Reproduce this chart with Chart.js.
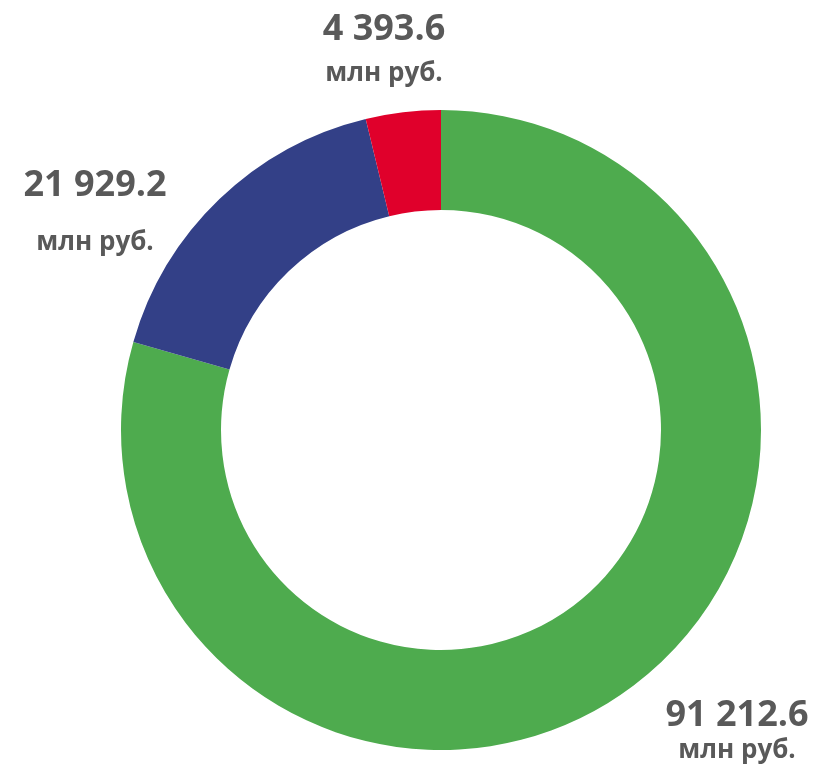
<!DOCTYPE html>
<html>
<head>
<meta charset="utf-8">
<script src="https://cdn.jsdelivr.net/npm/chart.js@4.4.1/dist/chart.umd.min.js"></script>
<style>
  html,body{margin:0;padding:0;background:#fff;}
  #wrap{width:817px;height:776px;}
</style>
</head>
<body>
<div id="wrap"><canvas id="c" width="817" height="776"></canvas></div>
<script>
const categories = ['Сегмент 1', 'Сегмент 2', 'Сегмент 3'];
const values = [91212.6, 19270, 4340];
const colors = ['#4EAB4E', '#334087', '#E0002B'];
// printed labels
const valueLabels = ['91 212.6', '21 929.2', '4 393.6'];
const unitLabel = 'млн руб.';

const TEXT = '#595959';
// label anchor points (canvas px): value text center / unit text center
const labelPos = [
  {x: 737, y: 716, uy: 751},
  {x: 95, y: 186, uy: 243},
  {x: 384, y: 30, uy: 74}
];

const labelsPlugin = {
  id: 'valueLabels',
  afterDraw(chart){
    const ctx = chart.ctx;
    ctx.save();
    ctx.fillStyle = TEXT;
    ctx.textAlign = 'center';
    ctx.textBaseline = 'middle';
    labelPos.forEach((p, i) => {
      ctx.font = 'bold 36px "Open Sans"';
      ctx.fillText(valueLabels[i], p.x, p.y);
      ctx.font = 'bold 26px "Open Sans"';
      ctx.fillText(unitLabel, p.x, p.uy);
    });
    ctx.restore();
  }
};

new Chart(document.getElementById('c'), {
  type: 'doughnut',
  data: {
    labels: categories,
    datasets: [{
      data: values,
      backgroundColor: colors,
      borderWidth: 0
    }]
  },
  options: {
    responsive: false,
    animation: false,
    cutout: '68.75%',
    layout: {padding: {top: 110, bottom: 26, left: 121, right: 56}},
    plugins: {legend: {display: false}, tooltip: {enabled: false}}
  },
  plugins: [labelsPlugin]
});
</script>
</body>
</html>
